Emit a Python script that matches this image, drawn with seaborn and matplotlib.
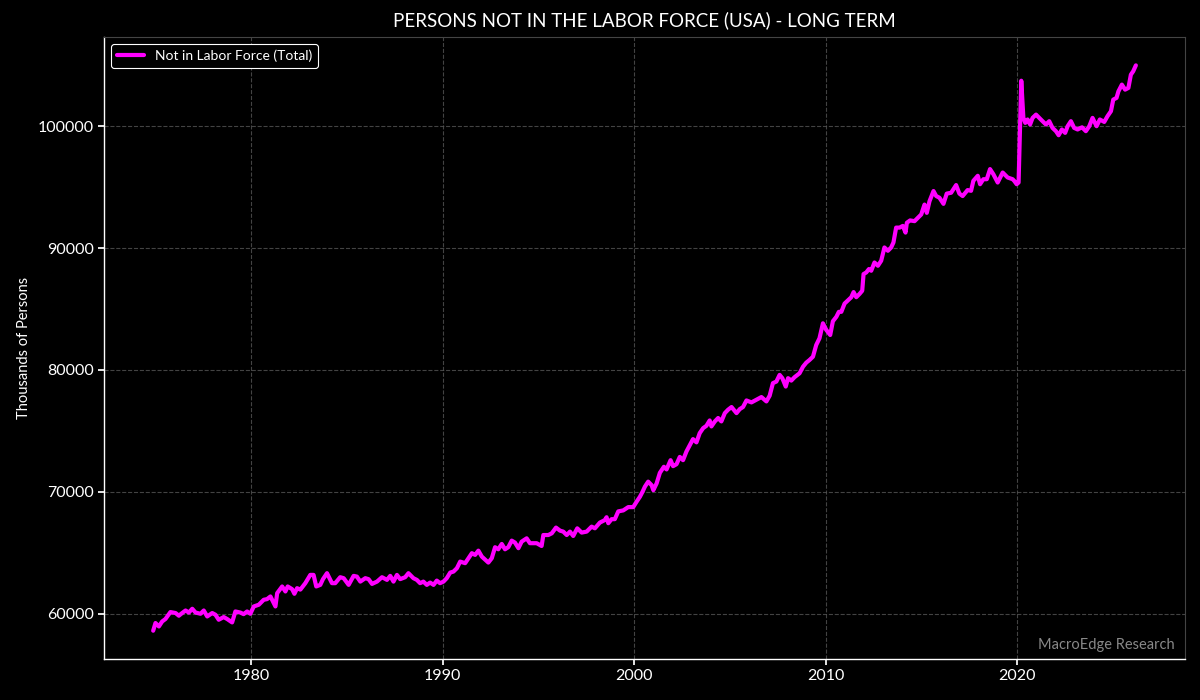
import matplotlib
matplotlib.use("Agg")
import matplotlib.pyplot as plt
import seaborn as sns
import pandas as pd

# decimal years
years = [
    1974.90, 1975.02, 1975.20, 1975.37, 1975.54, 1975.80, 1976.07, 1976.24, 1976.41, 1976.59,
    1976.76, 1976.94, 1977.11, 1977.37, 1977.54, 1977.72, 1977.98, 1978.15, 1978.32, 1978.58,
    1978.76, 1979.02, 1979.19, 1979.45, 1979.62, 1979.80, 1979.97, 1980.15, 1980.41, 1980.67,
    1980.84, 1981.02, 1981.28, 1981.37, 1981.63, 1981.80, 1981.92, 1982.15, 1982.27, 1982.41,
    1982.58, 1982.84, 1983.10, 1983.27, 1983.41, 1983.62, 1983.76, 1983.97, 1984.23, 1984.40,
    1984.66, 1984.84, 1985.10, 1985.36, 1985.53, 1985.71, 1985.97, 1986.14, 1986.32, 1986.58,
    1986.84, 1987.10, 1987.27, 1987.44, 1987.62, 1987.79, 1988.05, 1988.22, 1988.48, 1988.66,
    1988.83, 1989.00, 1989.18, 1989.35, 1989.53, 1989.70, 1989.87, 1990.05, 1990.22, 1990.40,
    1990.57, 1990.75, 1990.92, 1991.18, 1991.53, 1991.70, 1991.87, 1992.05, 1992.39, 1992.57,
    1992.74, 1992.91, 1993.09, 1993.26, 1993.43, 1993.61, 1993.78, 1993.96, 1994.13, 1994.39,
    1994.56, 1994.91, 1995.17, 1995.26, 1995.52, 1995.70, 1995.92, 1996.13, 1996.30, 1996.48,
    1996.65, 1996.82, 1997.03, 1997.26, 1997.52, 1997.78, 1997.95, 1998.21, 1998.47, 1998.56,
    1998.65, 1998.82, 1998.99, 1999.17, 1999.43, 1999.69, 1999.95, 2000.13, 2000.30, 2000.44,
    2000.56, 2000.73, 2000.91, 2001.00, 2001.17, 2001.34, 2001.55, 2001.69, 2001.90, 2002.03,
    2002.21, 2002.38, 2002.55, 2002.73, 2002.90, 2003.07, 2003.25, 2003.42, 2003.60, 2003.77,
    2003.94, 2004.03, 2004.21, 2004.38, 2004.55, 2004.73, 2004.90, 2005.08, 2005.34, 2005.51,
    2005.68, 2005.86, 2006.12, 2006.38, 2006.64, 2006.90, 2007.07, 2007.24, 2007.42, 2007.59,
    2007.73, 2007.91, 2008.03, 2008.20, 2008.37, 2008.63, 2008.81, 2008.98, 2009.15, 2009.33,
    2009.50, 2009.67, 2009.85, 2010.02, 2010.23, 2010.37, 2010.55, 2010.68, 2010.81, 2010.98,
    2011.15, 2011.33, 2011.45, 2011.59, 2011.76, 2011.90, 2011.97, 2012.11, 2012.25, 2012.37,
    2012.54, 2012.72, 2012.89, 2013.06, 2013.24, 2013.41, 2013.53, 2013.67, 2013.85, 2014.02,
    2014.16, 2014.23, 2014.40, 2014.63, 2014.80, 2014.98, 2015.15, 2015.27, 2015.41, 2015.62,
    2015.76, 2015.93, 2016.14, 2016.31, 2016.54, 2016.80, 2016.97, 2017.14, 2017.40, 2017.58,
    2017.70, 2017.93, 2018.05, 2018.22, 2018.40, 2018.57, 2018.74, 2018.97, 2019.23, 2019.49,
    2019.75, 2019.84, 2019.96, 2020.06, 2020.20, 2020.31, 2020.41, 2020.53, 2020.66, 2020.79,
    2020.97, 2021.14, 2021.31, 2021.49, 2021.66, 2021.83, 2022.01, 2022.15, 2022.32, 2022.49,
    2022.62, 2022.79, 2022.96, 2023.14, 2023.37, 2023.57, 2023.75, 2023.92, 2024.13, 2024.30,
    2024.53, 2024.70, 2024.88, 2025.00, 2025.17, 2025.27, 2025.45, 2025.62, 2025.79, 2025.92,
    2026.04, 2026.18,
]

# thousands of persons
not_in_lf = [
    58610, 59240, 58960, 59370, 59570, 60140, 60060, 59840, 60060, 60270,
    60100, 60410, 60100, 60000, 60270, 59780, 60060, 59920, 59510, 59730,
    59570, 59290, 60190, 60100, 59970, 60190, 60000, 60600, 60740, 61150,
    61200, 61420, 60600, 61690, 62240, 61830, 62240, 62020, 61640, 62100,
    61980, 62510, 63190, 63190, 62240, 62370, 62840, 63330, 62510, 62510,
    63000, 62920, 62370, 63110, 63050, 62640, 62920, 62840, 62450, 62640,
    63000, 62780, 63110, 62640, 63190, 62840, 63000, 63330, 62920, 62780,
    62510, 62640, 62370, 62560, 62370, 62720, 62510, 62640, 62920, 63380,
    63460, 63740, 64280, 64150, 64970, 64830, 65180, 64690, 64200, 64560,
    65460, 65290, 65730, 65290, 65460, 66000, 65840, 65380, 65920, 66190,
    65790, 65790, 65560, 66460, 66460, 66600, 67070, 66820, 66740, 66460,
    66740, 66380, 67010, 66660, 66740, 67150, 67010, 67480, 67690, 67920,
    67430, 67760, 67760, 68400, 68480, 68750, 68750, 69200, 69600, 70020,
    70430, 70840, 70550, 70140, 70690, 71560, 72060, 71840, 72600, 72110,
    72270, 72870, 72600, 73320, 73820, 74330, 74060, 74820, 75230, 75420,
    75860, 75370, 75780, 76060, 75780, 76460, 76740, 76960, 76460, 76790,
    76960, 77500, 77340, 77560, 77780, 77420, 77890, 78920, 79050, 79600,
    79330, 78640, 79330, 79130, 79410, 79730, 80270, 80600, 80820, 81090,
    82050, 82600, 83830, 83300, 82870, 84000, 84360, 84770, 84770, 85450,
    85700, 85970, 86390, 85970, 86240, 86500, 87870, 88000, 88280, 88140,
    88820, 88550, 88960, 90050, 89780, 90050, 90460, 91680, 91680, 91820,
    91270, 92080, 92270, 92210, 92480, 92760, 93570, 92890, 93840, 94680,
    94270, 94130, 93630, 94470, 94540, 95170, 94470, 94270, 94760, 94700,
    95520, 95930, 95240, 95650, 95650, 96480, 96070, 95380, 96200, 95790,
    95650, 95500, 95240, 95380, 103730, 100680, 100270, 100550, 100140, 100680,
    100950, 100680, 100410, 100140, 100410, 99860, 99590, 99260, 99730, 99450,
    100000, 100410, 99860, 99730, 99910, 99590, 100000, 100680, 100000, 100550,
    100350, 100820, 101230, 102180, 102320, 102860, 103410, 103000, 103140, 104230,
    104500, 104990,
]

df = pd.DataFrame({"year": years, "value": not_in_lf})

sns.set_theme(style="dark")
plt.rcParams['font.family'] = ['Lato', 'DejaVu Sans']

fig = plt.figure(figsize=(12, 7), dpi=100, facecolor="black")
ax = fig.add_axes([0.0867, 0.0586, 0.9008, 0.8884])
ax.set_facecolor("black")

sns.lineplot(data=df, x="year", y="value", color="#ff00ff", linewidth=3.0,
             label="Not in Labor Force (Total)", ax=ax)

ax.set_title("PERSONS NOT IN THE LABOR FORCE (USA) - LONG TERM", color="white", fontsize=13.5, pad=8)
ax.set_xlabel("")
ax.set_ylabel("Thousands of Persons", color="white", fontsize=10.5, labelpad=5)
ax.tick_params(axis="both", colors="white", labelsize=11.5, length=4, left=True, bottom=True)
ax.grid(True, color="#555555", linestyle="--", linewidth=0.8, alpha=0.8)

for side in ["left", "bottom"]:
    ax.spines[side].set_color("white")
    ax.spines[side].set_linewidth(1.0)
for side in ["top", "right"]:
    ax.spines[side].set_color("#444444")
    ax.spines[side].set_linewidth(0.8)

leg = ax.legend(loc="upper left", fontsize=10, facecolor="black", edgecolor="white",
                labelcolor="white", framealpha=1.0)
leg.get_frame().set_linewidth(0.8)

ax.text(0.99, 0.012, "MacroEdge Research", transform=ax.transAxes, ha="right", va="bottom",
        color="#888888", fontsize=10.5)

plt.savefig("out.png", dpi=100, facecolor="black")
